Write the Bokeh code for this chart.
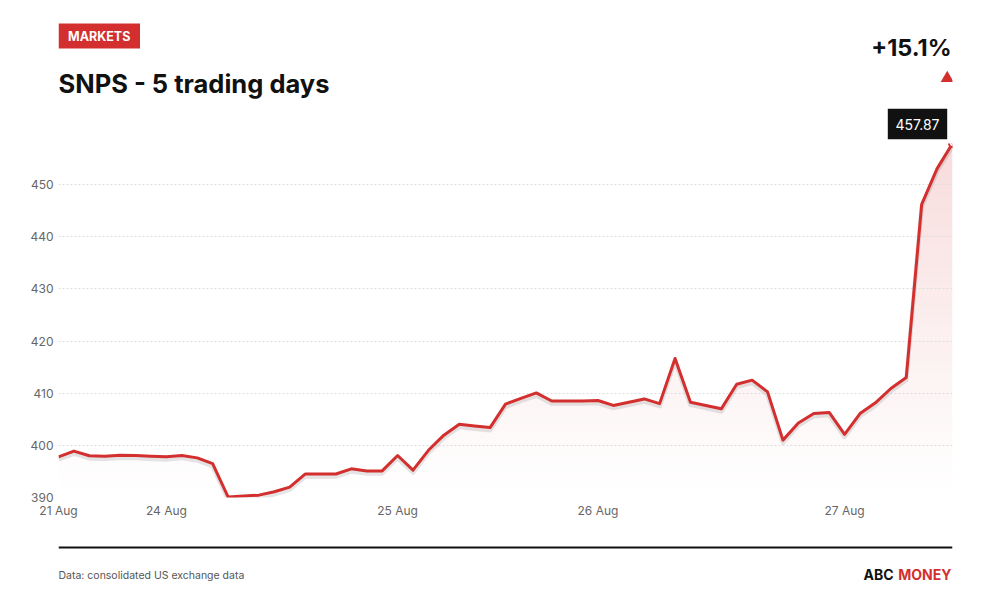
import numpy as np
from bokeh.plotting import figure
from bokeh.layouts import column
from bokeh.models import Label, FixedTicker, Range1d, ColumnDataSource
from bokeh.transform import dodge
from bokeh.embed import file_html
from bokeh.resources import INLINE

# ---------------- data ----------------
ticker_symbol = "SNPS"
prices = [
    397.8, 398.9, 398.0, 397.9, 398.1, 398.05, 397.9, 397.8, 398.05, 397.6,
    396.5, 390.1, 390.3, 390.45, 391.1, 392.0, 394.5, 394.5, 394.5, 395.5,
    395.1, 395.1, 398.05, 395.25, 399.05, 401.95, 404.05, 403.7, 403.4, 407.9,
    409.0, 410.05, 408.5, 408.5, 408.5, 408.6, 407.65, 408.25, 408.9, 408.0,
    416.65, 408.25, 407.65, 407.0, 411.7, 412.5, 410.25, 401.0, 404.3, 406.1,
    406.3, 402.1, 406.1, 408.15, 410.9, 413.0, 446.2, 453.05, 457.87,
]
x_tick_index = [0, 7, 22, 35, 51]
x_tick_labels = ["21 Aug", "24 Aug", "25 Aug", "26 Aug", "27 Aug"]
y_ticks = [390, 400, 410, 420, 430, 440, 450]

RED = "#d32f2f"
INK = "#111111"
FONT = "Inter"
W = 984
FRAME_L, FRAME_R = 58, 952
HEAD_H, CHART_BOTTOM, FOOT_TOP, TOTAL_H = 143, 497, 520, 590

idx = list(range(len(prices)))
y_lo = 390
y_hi = max(prices)
change = (prices[-1] / prices[0] - 1) * 100


def panel(y0, y1):
    """Header/footer figure; its frame lines up with the chart frame, page pixel coords."""
    f = figure(width=W, height=y1 - y0, output_backend="svg", toolbar_location=None,
               x_range=Range1d(FRAME_L, FRAME_R), y_range=Range1d(y1, y0),
               x_axis_location=None, y_axis_location=None,
               min_border=0, min_border_left=FRAME_L, min_border_right=W - FRAME_R,
               min_border_top=0, min_border_bottom=0, outline_line_color=None)
    f.grid.visible = False
    return f


def lab(f, text, x, y, size, color, bold=False, align="left", baseline="alphabetic",
        font=FONT):
    if baseline == "alphabetic":
        y = y - 0.42 * size   # compensate the renderer's baseline offset
    f.add_layout(Label(x=x, y=y, text=text, text_font=font, text_font_size=f"{size}px",
                       text_color=color, text_font_style="bold" if bold else "normal",
                       text_align=align, text_baseline=baseline))


# ---------------- header ----------------
head = panel(0, HEAD_H)
head.quad(left=[58], right=[139.5], top=[23], bottom=[48], fill_color=RED, line_color=None)
lab(head, "MARKETS", 98.75, 35.8, 12.5, "white", bold=True, align="center", baseline="middle")
lab(head, f"{ticker_symbol} - 5 trading days", 58, 93.3, 25.5, INK, bold=True)
lab(head, f"+{change:.1f}%", 951, 56.7, 23.5, INK, bold=True, align="right")
head.scatter(x=[946.7], y=[77.8], marker="triangle", size=13, fill_color=RED, line_color=None)
head.quad(left=[887.3], right=[946.7], top=[108.3], bottom=[138.7], fill_color=INK,
          line_color=None)
lab(head, f"{prices[-1]:.2f}", 917, 123.8, 14, "white", align="center", baseline="middle")

# ---------------- chart ----------------
p = figure(width=W, height=FOOT_TOP - HEAD_H, output_backend="svg", toolbar_location=None,
           x_range=Range1d(0, len(prices) - 1), y_range=Range1d(y_lo, y_hi),
           min_border_left=FRAME_L, min_border_right=W - FRAME_R, min_border_top=0,
           min_border_bottom=FOOT_TOP - CHART_BOTTOM, outline_line_color=None)

# gradient fill under the line
H = 256
alpha = np.linspace(0.0, 0.17, H)
img = np.zeros((H, 1), dtype=np.uint32)
view = img.view(dtype=np.uint8).reshape((H, 1, 4))
view[:, 0, 0] = 211
view[:, 0, 1] = 47
view[:, 0, 2] = 47
view[:, 0, 3] = (alpha * 255).astype(np.uint8)
p.image_rgba(image=[img], x=0.05, y=y_lo, dw=len(prices) - 1.05,
             dh=y_hi - y_lo - 0.3, level="image")

# white mask above the line (extended past the frame so no edge shows)
mask = ColumnDataSource(dict(x=[idx[0] - 1] + idx + [idx[-1] + 1],
                             y=[prices[0]] + prices + [prices[-1]]))
p.varea(x="x", y1="y", y2=y_hi + 20, fill_color="white", source=mask, level="image")

src = ColumnDataSource(dict(x=idx, y=prices))

p.xgrid.grid_line_color = None
p.ygrid.ticker = FixedTicker(ticks=y_ticks)
p.ygrid.grid_line_color = "#dedede"
p.ygrid.grid_line_dash = "2 2"
p.ygrid.grid_line_width = 1

for ax in (p.xaxis[0], p.yaxis[0]):
    ax.axis_line_color = None
    ax.major_tick_line_color = None
    ax.minor_tick_line_color = None
    ax.major_tick_out = 0
    ax.minor_tick_out = 0
    ax.major_label_text_font = FONT
    ax.major_label_text_font_size = "12px"
    ax.major_label_text_color = "#666666"
p.yaxis.ticker = FixedTicker(ticks=y_ticks)
p.yaxis.major_label_standoff = 5
p.xaxis.ticker = FixedTicker(ticks=x_tick_index)
p.xaxis.major_label_overrides = dict(zip(x_tick_index, x_tick_labels))
p.xaxis.major_label_standoff = 5

p.line(x="x", y=dodge("y", -0.5), line_color="black", line_alpha=0.1,
       line_width=4.5, line_join="round", source=src)
p.line(x="x", y="y", line_color=RED, line_width=3, line_join="round", source=src)
p.scatter(x=[idx[-1]], y=[prices[-1]], size=7, fill_color="white",
          line_color=RED, line_width=2)

# ---------------- footer ----------------
foot = panel(FOOT_TOP, TOTAL_H)
foot.quad(left=[FRAME_L], right=[FRAME_R], top=[546], bottom=[548], fill_color=INK,
          line_color=None)
lab(foot, "Data: consolidated US exchange data", 58, 579.5, 10.5, "#555555")
lab(foot, "MONEY", 951, 580, 14, RED, bold=True, align="right")
lab(foot, "ABC", 893, 580, 14, INK, bold=True, align="right")

layout = column(head, p, foot, spacing=0)
open("out.html", "w").write(file_html(layout, INLINE))
